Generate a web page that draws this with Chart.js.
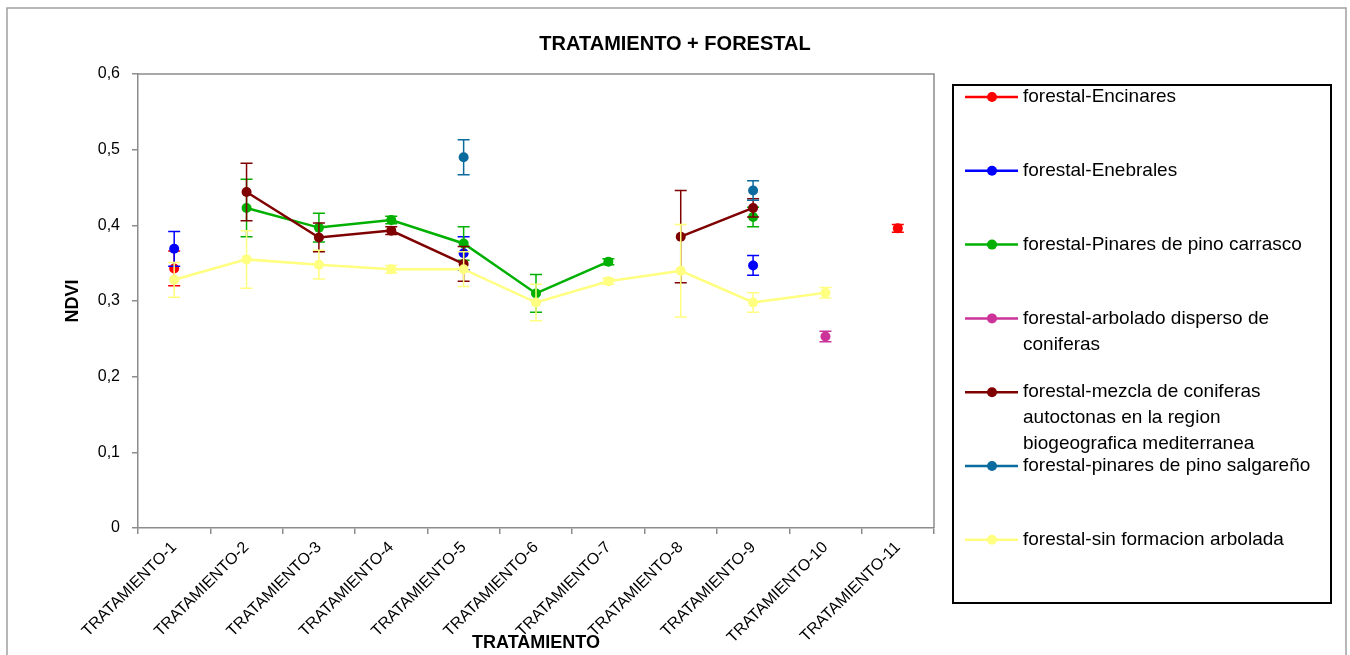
<!DOCTYPE html>
<html>
<head>
<meta charset="utf-8">
<title>TRATAMIENTO + FORESTAL</title>
<script src="https://cdn.jsdelivr.net/npm/chart.js@4.4.1/dist/chart.umd.min.js"></script>
<style>
    html, body { margin: 0; padding: 0; background: #fff; }
    #wrap { width: 1350px; height: 655px; }
</style>
</head>
<body>
<div id="wrap"><canvas id="ndviChart" width="1350" height="655"></canvas></div>
<script>
const categories = ['TRATAMIENTO-1', 'TRATAMIENTO-2', 'TRATAMIENTO-3', 'TRATAMIENTO-4', 'TRATAMIENTO-5',
    'TRATAMIENTO-6', 'TRATAMIENTO-7', 'TRATAMIENTO-8', 'TRATAMIENTO-9', 'TRATAMIENTO-10', 'TRATAMIENTO-11'];

// NDVI means per treatment (null = no data) and their error bar half-heights
const encinares       = [0.343, null, null, null, null, null, null, null, null, null, 0.396];
const encinaresErr    = [0.023, null, null, null, null, null, null, null, null, null, 0.005];
const enebrales       = [0.369, null, null, null, 0.363, null, null, null, 0.347, null, null];
const enebralesErr    = [0.023, null, null, null, 0.022, null, null, null, 0.013, null, null];
const pinoCarrasco    = [null, 0.423, 0.397, 0.407, 0.376, 0.310, 0.352, null, 0.411, null, null];
const pinoCarrascoErr = [null, 0.038, 0.019, 0.005, 0.022, 0.025, 0.004, null, 0.013, null, null];
const arbolado        = [null, null, null, null, null, null, null, null, null, 0.253, null];
const arboladoErr     = [null, null, null, null, null, null, null, null, null, 0.007, null];
const mezcla          = [null, 0.444, 0.384, 0.393, 0.349, null, null, 0.385, 0.423, null, null];
const mezclaErr       = [null, 0.038, 0.019, 0.005, 0.023, null, null, 0.061, 0.012, null, null];
const salgareno       = [null, null, null, null, 0.490, null, null, null, 0.446, null, null];
const salgarenoErr    = [null, null, null, null, 0.023, null, null, null, 0.013, null, null];
const sinFormacion    = [0.328, 0.355, 0.348, 0.342, 0.342, 0.298, 0.326, 0.340, 0.298, 0.311, null];
const sinFormacionErr = [0.023, 0.038, 0.019, 0.005, 0.023, 0.024, 0.004, 0.061, 0.013, 0.007, null];

const yTicks = [0, 0.1, 0.2, 0.3, 0.4, 0.5, 0.6];

const seriesLabels = [
    ['forestal-Encinares'],
    ['forestal-Enebrales'],
    ['forestal-Pinares de pino carrasco'],
    ['forestal-arbolado disperso de', 'coniferas'],
    ['forestal-mezcla de coniferas', 'autoctonas en la region', 'biogeografica mediterranea'],
    ['forestal-pinares de pino salgareño'],
    ['forestal-sin formacion arbolada']
];
const seriesValues = [encinares, enebrales, pinoCarrasco, arbolado, mezcla, salgareno, sinFormacion];
const seriesErrors = [encinaresErr, enebralesErr, pinoCarrascoErr, arboladoErr, mezclaErr, salgarenoErr, sinFormacionErr];
const seriesColors = ['#FF0000', '#0000FF', '#00B000', '#CC3399', '#7F0000', '#0B6A9E', '#FFFF80'];

const FONT = "'Liberation Sans', Arial, sans-serif";
const AXIS_GRAY = '#8C8C8C';

// Excel-like error bars, drawn just before each series so the markers sit on top
const errorBarsPlugin = {
    id: 'errorBars',
    beforeDatasetDraw(chart, args) {
        const ds = chart.data.datasets[args.index];
        if (!ds.errors) return;
        const y = chart.scales.y;
        const ctx = chart.ctx;
        ctx.save();
        ctx.strokeStyle = ds.borderColor;
        ctx.lineWidth = 1.5;
        args.meta.data.forEach((pt, i) => {
            const v = ds.data[i];
            const e = ds.errors[i];
            if (v == null || e == null) return;
            const top = y.getPixelForValue(v + e);
            const bot = y.getPixelForValue(v - e);
            ctx.beginPath();
            ctx.moveTo(pt.x, top); ctx.lineTo(pt.x, bot);
            ctx.moveTo(pt.x - 6, top); ctx.lineTo(pt.x + 6, top);
            ctx.moveTo(pt.x - 6, bot); ctx.lineTo(pt.x + 6, bot);
            ctx.stroke();
        });
        ctx.restore();
    }
};

// outer chart frame + top/right edges of the plot area
const framePlugin = {
    id: 'frame',
    beforeDraw(chart) {
        const ctx = chart.ctx;
        const a = chart.chartArea;
        ctx.save();
        ctx.strokeStyle = '#A0A0A0';
        ctx.lineWidth = 1.5;
        ctx.strokeRect(7, 8, 1339, 700);
        ctx.strokeStyle = AXIS_GRAY;
        ctx.beginPath();
        ctx.moveTo(a.left, a.top); ctx.lineTo(a.right, a.top); ctx.lineTo(a.right, a.bottom);
        ctx.stroke();
        ctx.restore();
    }
};

// boxed legend on the right, wrapped labels as in the original sheet
const legendBoxPlugin = {
    id: 'legendBox',
    afterDraw(chart) {
        const ctx = chart.ctx;
        const left = chart.chartArea.right + 19;
        ctx.save();
        ctx.strokeStyle = '#000';
        ctx.lineWidth = 2;
        ctx.strokeRect(left, 85, 378, 518);
        ctx.font = '19px ' + FONT;
        ctx.textBaseline = 'middle';
        ctx.textAlign = 'left';
        chart.data.datasets.forEach((ds, i) => {
            const y = 97 + i * 73.8;
            ctx.strokeStyle = ds.borderColor;
            ctx.lineWidth = 2.5;
            ctx.beginPath();
            ctx.moveTo(left + 12, y); ctx.lineTo(left + 65, y);
            ctx.stroke();
            ctx.fillStyle = ds.borderColor;
            ctx.beginPath();
            ctx.arc(left + 39, y, 5, 0, Math.PI * 2);
            ctx.fill();
            ctx.fillStyle = '#000';
            seriesLabels[i].forEach((line, j) => ctx.fillText(line, left + 70, y + j * 26));
        });
        ctx.restore();
    }
};

const datasets = seriesValues.map((values, i) => ({
    label: seriesLabels[i].join(' '),
    data: values,
    errors: seriesErrors[i],
    borderColor: seriesColors[i],
    backgroundColor: seriesColors[i],
    borderWidth: 2.5,
    pointRadius: 5,
    pointBorderWidth: 0,
    pointBackgroundColor: seriesColors[i],
    spanGaps: false,
    tension: 0,
    order: seriesValues.length - 1 - i
}));

new Chart(document.getElementById('ndviChart').getContext('2d'), {
    type: 'line',
    data: { labels: categories, datasets: datasets },
    options: {
        responsive: false,
        animation: false,
        events: [],
        layout: { padding: 0 },
        plugins: {
            legend: { display: false },
            tooltip: { enabled: false },
            title: {
                display: true,
                text: 'TRATAMIENTO + FORESTAL',
                color: '#000',
                font: { family: FONT, size: 20, weight: 'bold', lineHeight: 1.2 },
                padding: { top: 32, bottom: 18 }
            }
        },
        scales: {
            x: {
                offset: true,
                afterFit: (scale) => { scale.height = 127; },
                grid: { display: true, offset: true, drawOnChartArea: false, tickLength: 6, color: AXIS_GRAY, lineWidth: 1.5 },
                border: { color: AXIS_GRAY, width: 1.5 },
                ticks: {
                    autoSkip: false,
                    minRotation: 45,
                    maxRotation: 45,
                    padding: 4,
                    color: '#000',
                    font: { family: FONT, size: 16 }
                },
                title: {
                    display: true,
                    text: 'TRATAMIENTO',
                    color: '#000',
                    font: { family: FONT, size: 18, weight: 'bold', lineHeight: 1.2 },
                    padding: { top: 0, bottom: 1 }
                }
            },
            y: {
                min: 0,
                max: 0.6,
                afterFit: (scale) => { scale.width = 138; },
                afterBuildTicks: (scale) => { scale.ticks = yTicks.map(v => ({ value: v })); },
                grid: { display: true, drawOnChartArea: false, tickLength: 6, color: AXIS_GRAY, lineWidth: 1.5 },
                border: { color: AXIS_GRAY, width: 1.5 },
                ticks: {
                    padding: 12,
                    color: '#000',
                    font: { family: FONT, size: 16 },
                    callback: (v) => v === 0 ? '0' : v.toFixed(1).replace('.', ',')
                },
                title: {
                    display: true,
                    text: 'NDVI',
                    color: '#000',
                    font: { family: FONT, size: 18, weight: 'bold', lineHeight: 1.2 },
                    padding: { top: 62, bottom: 0 }
                }
            },
            // empty right-hand axis that only reserves the room used by the legend box
            legendSpace: {
                position: 'right',
                afterFit: (scale) => { scale.width = 416; },
                grid: { display: false },
                border: { display: false },
                ticks: { display: false }
            }
        }
    },
    plugins: [errorBarsPlugin, framePlugin, legendBoxPlugin]
});
</script>
</body>
</html>
